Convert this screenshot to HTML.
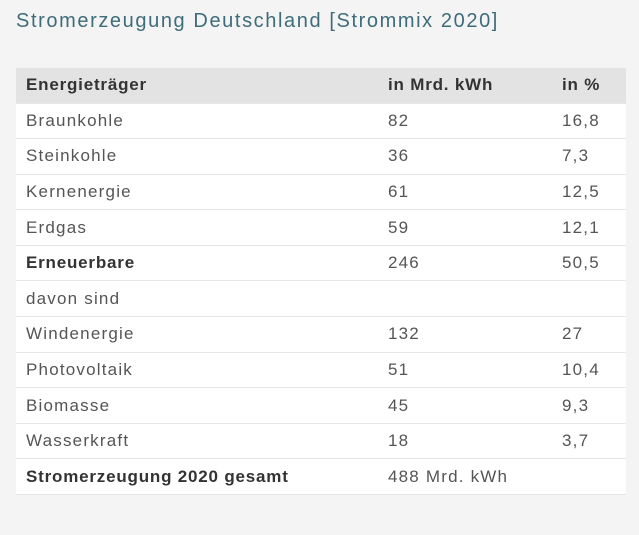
<!DOCTYPE html>
<html><head><meta charset="utf-8">
<style>
html,body{margin:0;padding:0}
body{width:639px;height:535px;background:#f4f4f4;font-family:"Liberation Sans",sans-serif;position:relative;overflow:hidden}
h1{position:absolute;left:16px;top:10px;margin:0;font-weight:normal;font-size:20px;letter-spacing:1.6px;color:#3e6c79;white-space:nowrap}
table{position:absolute;left:16px;top:68px;width:610px;border-collapse:collapse;background:#fff;table-layout:fixed}
td,th{height:35.6px;padding:0 0 0 10px;font-size:17px;letter-spacing:1.2px;color:#555;text-align:left;border-bottom:1px solid #e6e6e6;box-sizing:border-box;white-space:nowrap}
th{background:#e3e3e3;color:#333;font-weight:bold;height:35px;letter-spacing:0.8px}
td.b{font-weight:bold;color:#333;letter-spacing:0.8px}
.c1{width:362px}.c2{width:174px}
</style></head><body>
<h1>Stromerzeugung Deutschland [Strommix 2020]</h1>
<table>
<tr><th class="c1">Energieträger</th><th class="c2">in Mrd. kWh</th><th>in %</th></tr>
<tr><td>Braunkohle</td><td>82</td><td>16,8</td></tr>
<tr><td>Steinkohle</td><td>36</td><td>7,3</td></tr>
<tr><td>Kernenergie</td><td>61</td><td>12,5</td></tr>
<tr><td>Erdgas</td><td>59</td><td>12,1</td></tr>
<tr><td class="b">Erneuerbare</td><td>246</td><td>50,5</td></tr>
<tr><td>davon sind</td><td></td><td></td></tr>
<tr><td>Windenergie</td><td>132</td><td>27</td></tr>
<tr><td>Photovoltaik</td><td>51</td><td>10,4</td></tr>
<tr><td>Biomasse</td><td>45</td><td>9,3</td></tr>
<tr><td>Wasserkraft</td><td>18</td><td>3,7</td></tr>
<tr><td class="b">Stromerzeugung 2020 gesamt</td><td colspan="2">488 Mrd. kWh</td></tr>
</table>
</body></html>
